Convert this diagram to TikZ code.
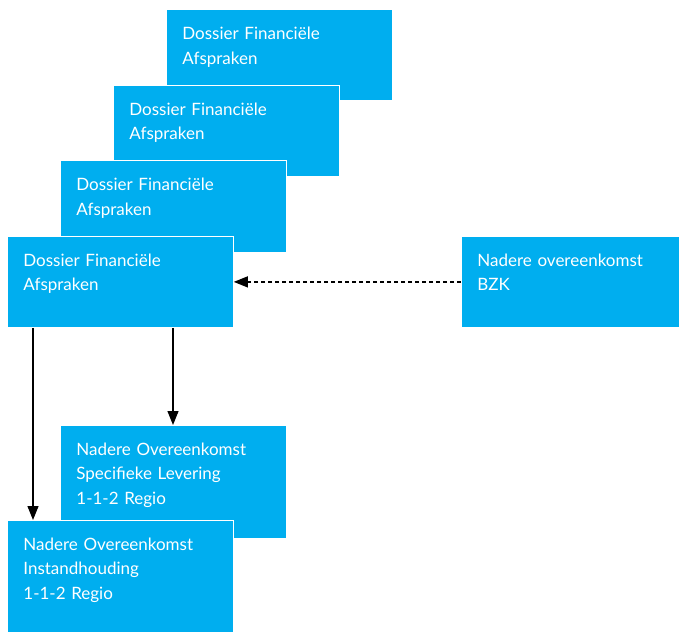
\documentclass[tikz,border=0pt]{standalone}
\usepackage{fontspec}
\setmainfont{Lato}
\usetikzlibrary{arrows.meta}
\definecolor{roblue}{RGB}{0,174,239}
\begin{document}
\begin{tikzpicture}[x=1pt, y=-1pt,
    every node/.style={fill=roblue, draw=white, line width=0.8pt, anchor=north west,
      text=white, align=left, inner sep=0pt, inner xsep=16pt,
      font=\fontsize{17}{24.5}\selectfont, text height=30pt},
    twoline/.style={text width=194pt, text depth=61pt},
    threeline/.style={text width=194pt, text depth=82pt},
    flow/.style={-{Triangle[length=14pt,width=11pt]}, line width=1.2pt}]
  \useasboundingbox (0,0) rectangle (679,631);
  \node [twoline] (fda1) at (166,9.5) {Dossier Financiële\\Afspraken};
  \node [twoline] (fda2) at (113,85) {Dossier Financiële\\Afspraken};
  \node [twoline] (fda3) at (60,160.5) {Dossier Financiële\\Afspraken};
  \node [twoline] (fda4) at (7,236) {Dossier Financiële\\Afspraken};
  \node [twoline, text width=186pt] (bzk) at (461,236) {Nadere overeenkomst\\BZK};
  \node [threeline, text depth=82.5pt] (lev) at (60,425) {Nadere Overeenkomst\\Specifieke Levering\\1-1-2 Regio};
  \node [threeline, text depth=81.5pt] (inst) at (7,520) {Nadere Overeenkomst\\Instandhouding\\1-1-2 Regio};
  \draw [flow, dash pattern=on 4pt off 3pt] (bzk.west) -- (fda4.east);
  \draw [flow] ([xshift=26pt]fda4.south west) -- ([xshift=26pt]inst.north west);
  \draw [flow] ([xshift=166pt]fda4.south west) -- ([xshift=166pt]fda4.south west |- lev.north);
\end{tikzpicture}
\end{document}
